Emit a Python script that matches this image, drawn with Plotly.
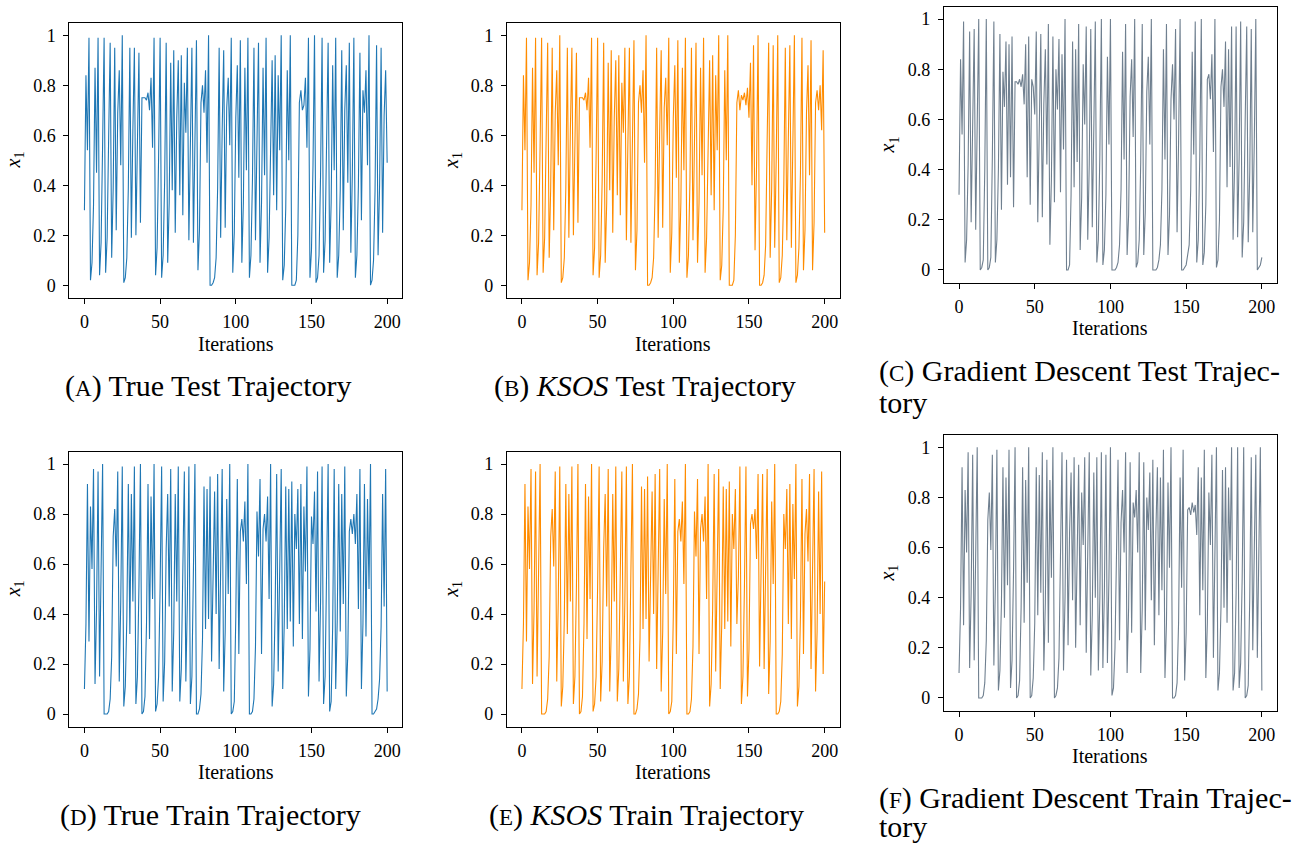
import plotly.graph_objects as go

iterations = list(range(201))

true_test = [
    0.30, 0.84, 0.54, 0.99, 0.02, 0.09, 0.32, 0.87, 0.45, 0.99,
    0.04, 0.17, 0.56, 0.99, 0.05, 0.19, 0.59, 0.97, 0.11, 0.39,
    0.95, 0.22, 0.69, 0.86, 0.48, 1.00, 0.01, 0.03, 0.11, 0.39,
    0.95, 0.19, 0.62, 0.95, 0.20, 0.63, 0.93, 0.25, 0.75, 0.75,
    0.75, 0.74, 0.77, 0.70, 0.83, 0.55, 0.99, 0.04, 0.15, 0.51,
    0.99, 0.03, 0.12, 0.42, 0.97, 0.09, 0.33, 0.89, 0.38, 0.94,
    0.21, 0.67, 0.90, 0.36, 0.92, 0.28, 0.81, 0.61, 0.95, 0.18,
    0.59, 0.95, 0.17, 0.56, 0.98, 0.06, 0.22, 0.73, 0.80, 0.69,
    0.86, 0.49, 1.00, 0.00, 0.00, 0.01, 0.03, 0.11, 0.39, 0.95,
    0.19, 0.62, 0.94, 0.23, 0.71, 0.83, 0.56, 0.99, 0.05, 0.21,
    0.67, 0.88, 0.43, 0.98, 0.09, 0.33, 0.87, 0.46, 0.99, 0.03,
    0.12, 0.42, 0.95, 0.18, 0.59, 0.97, 0.09, 0.33, 0.87, 0.44,
    0.99, 0.05, 0.19, 0.66, 0.90, 0.36, 0.92, 0.30, 0.84, 0.54,
    1.00, 0.02, 0.08, 0.31, 0.86, 0.50, 1.00, 0.00, 0.00, 0.00,
    0.02, 0.20, 0.73, 0.78, 0.70, 0.72, 0.83, 0.55, 0.99, 0.03,
    0.14, 0.48, 1.00, 0.01, 0.03, 0.12, 0.44, 0.99, 0.05, 0.18,
    0.58, 0.97, 0.09, 0.33, 0.88, 0.46, 0.99, 0.03, 0.12, 0.38,
    0.94, 0.22, 0.70, 0.88, 0.41, 0.97, 0.13, 0.45, 0.99, 0.03,
    0.12, 0.40, 0.93, 0.26, 0.78, 0.69, 0.86, 0.48, 1.00, 0.00,
    0.02, 0.10, 0.38, 0.96, 0.12, 0.40, 0.95, 0.21, 0.68, 0.86,
    0.49,
]

ksos_test = true_test[:142] + [
    0.73, 0.78, 0.70, 0.76, 0.74, 0.77, 0.72, 0.79,
    0.67, 0.89, 0.40, 0.96, 0.14, 0.48, 1.00, 0.00, 0.00, 0.01,
    0.04, 0.16, 0.58, 0.97, 0.11, 0.39, 0.96, 0.15, 0.51, 1.00,
    0.01, 0.03, 0.12, 0.40, 0.95, 0.18, 0.59, 0.96, 0.15, 0.51,
    1.00, 0.01, 0.04, 0.15, 0.45, 0.99, 0.06, 0.22, 0.69, 0.88,
    0.44, 0.98, 0.06, 0.25, 0.73, 0.78, 0.70, 0.80, 0.62, 0.94,
    0.21,
]

gd_test = [
    0.30, 0.84, 0.54, 0.99, 0.03, 0.12, 0.42, 0.95, 0.19, 0.60,
    0.96, 0.16, 0.52, 1.00, 0.00, 0.01, 0.04, 0.40, 1.00, 0.00,
    0.01, 0.05, 0.45, 0.99, 0.03, 0.12, 0.40, 0.94, 0.24, 0.79,
    0.65, 0.91, 0.34, 0.90, 0.37, 0.93, 0.25, 0.75, 0.75, 0.74,
    0.76, 0.73, 0.78, 0.66, 0.90, 0.37, 0.93, 0.26, 0.76, 0.73,
    0.62, 0.95, 0.19, 0.62, 0.94, 0.21, 0.66, 0.88, 0.42, 0.98,
    0.10, 0.36, 0.93, 0.27, 0.80, 0.64, 0.92, 0.31, 0.86, 0.48,
    1.00, 0.00, 0.00, 0.02, 0.30, 0.91, 0.33, 0.88, 0.43, 0.98,
    0.08, 0.29, 0.82, 0.58, 0.97, 0.12, 0.42, 0.96, 0.17, 0.56,
    0.99, 0.03, 0.12, 0.46, 1.00, 0.02, 0.08, 0.30, 0.85, 0.50,
    1.00, 0.00, 0.00, 0.00, 0.01, 0.03, 0.10, 0.32, 0.87, 0.44,
    0.98, 0.06, 0.22, 0.69, 0.84, 0.53, 1.00, 0.01, 0.03, 0.12,
    0.43, 0.98, 0.06, 0.23, 0.71, 0.85, 0.50, 1.00, 0.00, 0.00,
    0.00, 0.01, 0.04, 0.10, 0.32, 0.88, 0.44, 0.98, 0.06, 0.22,
    0.68, 0.82, 0.60, 0.96, 0.15, 0.51, 1.00, 0.00, 0.00, 0.01,
    0.02, 0.06, 0.10, 0.32, 0.87, 0.46, 0.99, 0.03, 0.12, 0.45,
    1.00, 0.02, 0.07, 0.26, 0.76, 0.78, 0.68, 0.86, 0.47, 1.00,
    0.01, 0.04, 0.20, 0.73, 0.80, 0.65, 0.91, 0.33, 0.88, 0.41,
    0.97, 0.12, 0.42, 0.97, 0.13, 0.45, 0.99, 0.05, 0.19, 0.60,
    0.97, 0.11, 0.39, 0.96, 0.15, 0.51, 1.00, 0.00, 0.01, 0.02,
    0.05,
]

true_train = [
    0.10, 0.36, 0.92, 0.29, 0.83, 0.58, 0.98, 0.12, 0.42, 0.97,
    0.15, 0.51, 1.00, 0.00, 0.00, 0.00, 0.01, 0.06, 0.23, 0.71,
    0.82, 0.59, 0.97, 0.13, 0.45, 0.99, 0.03, 0.11, 0.38, 0.92,
    0.32, 0.88, 0.45, 0.99, 0.04, 0.15, 0.51, 1.00, 0.00, 0.01,
    0.07, 0.36, 0.92, 0.30, 0.87, 0.46, 1.00, 0.01, 0.04, 0.15,
    0.51, 0.99, 0.05, 0.21, 0.66, 0.88, 0.43, 0.98, 0.09, 0.33,
    0.88, 0.45, 0.99, 0.05, 0.18, 0.58, 0.97, 0.13, 0.45, 0.99,
    0.04, 0.15, 0.51, 1.00, 0.00, 0.00, 0.02, 0.08, 0.30, 0.91,
    0.34, 0.90, 0.38, 0.95, 0.21, 0.66, 0.89, 0.40, 0.96, 0.18,
    0.59, 0.98, 0.09, 0.33, 0.86, 0.48, 1.00, 0.00, 0.01, 0.05,
    0.39, 0.94, 0.24, 0.73, 0.78, 0.69, 0.85, 0.52, 1.00, 0.00,
    0.00, 0.01, 0.06, 0.27, 0.81, 0.63, 0.94, 0.24, 0.74, 0.80,
    0.69, 0.87, 0.46, 1.00, 0.03, 0.12, 0.42, 0.96, 0.17, 0.55,
    0.98, 0.10, 0.36, 0.91, 0.34, 0.90, 0.37, 0.93, 0.27, 0.80,
    0.66, 0.90, 0.36, 0.92, 0.30, 0.83, 0.57, 0.99, 0.07, 0.26,
    0.79, 0.68, 0.89, 0.41, 0.97, 0.13, 0.45, 0.99, 0.04, 0.15,
    0.51, 1.00, 0.01, 0.05, 0.35, 0.98, 0.10, 0.37, 0.92, 0.33,
    0.88, 0.44, 0.99, 0.07, 0.24, 0.73, 0.78, 0.72, 0.80, 0.68,
    0.88, 0.42, 0.98, 0.10, 0.36, 0.92, 0.31, 0.86, 0.50, 1.00,
    0.00, 0.00, 0.01, 0.02, 0.06, 0.14, 0.35, 0.88, 0.43, 0.98,
    0.09,
]

ksos_train = true_train[:143] + [
    0.55, 0.99, 0.04, 0.15, 0.51, 0.99, 0.07,
    0.26, 0.76, 0.80, 0.74, 0.82, 0.62, 0.96, 0.19, 0.60, 0.96,
    0.18, 0.59, 0.98, 0.08, 0.29, 0.85, 0.52, 1.00, 0.00, 0.00,
    0.01, 0.05, 0.24, 0.80, 0.66, 0.90, 0.36, 0.92, 0.30, 0.84,
    0.54, 1.00, 0.03, 0.11, 0.39, 0.94, 0.24, 0.72, 0.82, 0.61,
    0.96, 0.18, 0.58, 0.98, 0.09, 0.33, 0.89, 0.40, 0.97, 0.16,
    0.53,
]

gd_train = true_train[:47] + [
    0.00, 0.01, 0.08,
    0.30, 0.92, 0.33, 0.89, 0.42, 0.98, 0.11, 0.38, 0.95, 0.22,
    0.87, 0.48, 1.00, 0.00, 0.01, 0.04, 0.16, 0.55, 0.98, 0.11,
    0.40, 0.95, 0.21, 0.66, 0.90, 0.39, 0.96, 0.20, 0.62, 0.93,
    0.29, 0.82, 0.61, 0.96, 0.18, 0.57, 0.98, 0.09, 0.33, 0.90,
    0.40, 0.96, 0.11, 0.40, 0.98, 0.12, 0.43, 0.97, 0.14, 0.48,
    1.00, 0.01, 0.04, 0.20, 0.60, 0.95, 0.23, 0.70, 0.83, 0.58,
    0.98, 0.10, 0.36, 0.94, 0.26, 0.78, 0.72, 0.83, 0.58, 0.98,
    0.10, 0.36, 0.94, 0.27, 0.80, 0.67, 0.90, 0.39, 0.95, 0.21,
    0.66, 0.92, 0.33, 0.88, 0.43, 0.99, 0.08, 0.30, 0.86, 0.52,
    1.00, 0.00, 0.00, 0.01, 0.06, 0.30, 0.88, 0.44, 0.99, 0.07,
    0.26, 0.75, 0.76, 0.73, 0.78, 0.74, 0.77, 0.65, 0.92, 0.33,
    0.88, 0.43, 0.99, 0.08, 0.30, 0.82, 0.61, 0.97, 0.16, 0.52,
    1.00, 0.03, 0.10, 0.36, 0.91, 0.36, 0.92, 0.30, 0.84, 0.55,
    1.00, 0.03, 0.10, 0.42, 1.00, 0.04, 0.14, 0.48, 1.00, 0.00,
    0.01, 0.05, 0.40, 0.96, 0.19, 0.59, 0.97, 0.16, 0.52, 1.00,
    0.03,
]

x_ticks = [0, 50, 100, 150, 200]
x_tick_labels = ["0", "50", "100", "150", "200"]
y_ticks = [0, 0.2, 0.4, 0.6, 0.8, 1.0]
y_tick_labels = ["0", "0.2", "0.4", "0.6", "0.8", "1"]

W, H = 1299, 843
FONT = "Liberation Serif"
BLUE = "#1f77b4"
ORANGE = "#ff8c00"
SLATE = "#708090"
CAP_SIZE = 30

def sc(letter):
    return "(<span style='font-size:23px'>%s</span>)" % letter

def two_lines(first, second):
    span = "<span style='font-size:%dpx'>%%s</span>" % CAP_SIZE
    return (span % first) + "<br>" + (span % second)

# caption entries: (text, x px, y px centre, anchor, base font size)
# base font size of the two-line captions sets the line spacing (1.3 x size)
panels = [
    dict(y=true_test, color=BLUE, box=(69.3, 22.7, 402.3, 297.7),
         cap=[(sc("A") + " True Test Trajectory", 208, 386, "center", CAP_SIZE)]),
    dict(y=ksos_test, color=ORANGE, box=(506.8, 22.7, 839.8, 297.7),
         cap=[(sc("B") + " <i>KSOS</i> Test Trajectory", 645, 386, "center", CAP_SIZE)]),
    dict(y=gd_test, color=SLATE, box=(943.9, 6.5, 1277.0, 282.5),
         cap=[(two_lines(sc("C") + " Gradient Descent Test Trajec-", "tory"),
               877, 387, "left", 24.5)]),
    dict(y=true_train, color=BLUE, box=(69.3, 451.5, 402.3, 726.5),
         cap=[(sc("D") + " True Train Trajectory", 210, 814.5, "center", CAP_SIZE)]),
    dict(y=ksos_train, color=ORANGE, box=(506.8, 451.5, 839.8, 726.5),
         cap=[(sc("E") + " <i>KSOS</i> Train Trajectory", 646, 814.5, "center", CAP_SIZE)]),
    dict(y=gd_train, color=SLATE, box=(943.9, 434.8, 1277.0, 710.5),
         cap=[(two_lines(sc("F") + " Gradient Descent Train Trajec-", "tory"),
               877, 812, "left", 22.3)]),
]

fig = go.Figure()
annotations = []
layout = dict(
    width=W, height=H, autosize=False,
    margin=dict(l=0, r=0, t=0, b=0),
    paper_bgcolor="white", plot_bgcolor="white",
    showlegend=False,
    font=dict(family=FONT, color="black", size=18),
)

for k, p in enumerate(panels):
    n = k + 1
    xa = "xaxis" if n == 1 else "xaxis%d" % n
    ya = "yaxis" if n == 1 else "yaxis%d" % n
    xr = "x" if n == 1 else "x%d" % n
    yr = "y" if n == 1 else "y%d" % n
    l, t, r, b = p["box"]
    fig.add_trace(go.Scatter(
        x=iterations, y=p["y"], mode="lines",
        line=dict(color=p["color"], width=1.1),
        xaxis=xr, yaxis=yr, hoverinfo="skip",
    ))
    layout[xa] = dict(
        domain=[l / W, r / W], anchor=yr, range=[-10, 210],
        showline=True, mirror=True, linecolor="black", linewidth=1,
        ticks="outside", ticklen=5, tickwidth=1, tickcolor="black",
        tickvals=x_ticks, ticktext=x_tick_labels,
        tickfont=dict(family=FONT, size=18, color="black"),
        showgrid=False, zeroline=False, fixedrange=True,
        ticklabelstandoff=3,
    )
    layout[ya] = dict(
        domain=[1 - b / H, 1 - t / H], anchor=xr, range=[-0.05, 1.05],
        showline=True, mirror=True, linecolor="black", linewidth=1,
        ticks="outside", ticklen=5, tickwidth=1, tickcolor="black",
        tickvals=y_ticks, ticktext=y_tick_labels,
        tickfont=dict(family=FONT, size=18, color="black"),
        showgrid=False, zeroline=False, fixedrange=True,
        ticklabelstandoff=4,
    )
    annotations.append(dict(
        text="Iterations", x=((l + r) / 2) / W, y=1 - (b + 45.8) / H,
        xref="paper", yref="paper", showarrow=False,
        xanchor="center", yanchor="middle",
        font=dict(family=FONT, size=20, color="black"),
    ))
    annotations.append(dict(
        text="<i>x</i><sub>1</sub>", x=(l - 55) / W, y=1 - ((t + b) / 2) / H,
        xref="paper", yref="paper", showarrow=False, textangle=-90,
        xanchor="center", yanchor="middle",
        font=dict(family=FONT, size=20, color="black"),
    ))
    for text, cx, cy, anc, fs in p["cap"]:
        annotations.append(dict(
            text=text, x=cx / W, y=1 - cy / H,
            xref="paper", yref="paper", showarrow=False,
            xanchor=anc, yanchor="middle", align=anc,
            font=dict(family=FONT, size=fs, color="black"),
        ))

layout["annotations"] = annotations
fig.update_layout(**layout)
fig.write_html("out.html")
